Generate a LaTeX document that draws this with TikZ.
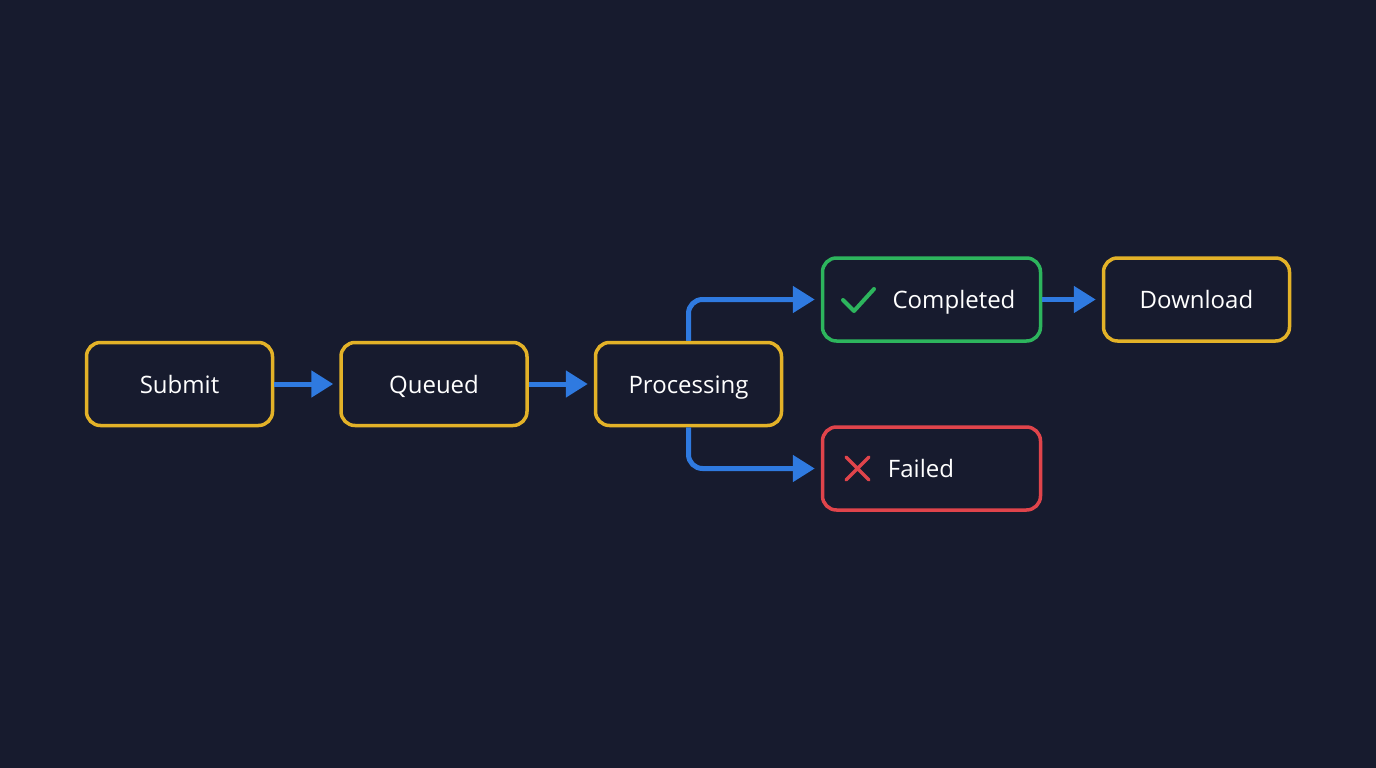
\documentclass[tikz,border=0pt]{standalone}
\usepackage{fontspec}
\setmainfont{Open Sans}
\usetikzlibrary{arrows.meta}
\definecolor{bg}{HTML}{171B2E}
\definecolor{yel}{HTML}{E3B228}
\definecolor{grn}{HTML}{2DB55D}
\definecolor{rd}{HTML}{E0444B}
\definecolor{blu}{HTML}{2F7AE0}
\begin{document}
\begin{tikzpicture}[x=1pt,y=-1pt,
  box/.style={draw=yel,line width=3.5pt,rounded corners=14pt,fill=bg,minimum width=186pt,minimum height=83pt,text=white,font=\fontsize{24}{28}\selectfont,inner sep=0pt,text height=20pt,text depth=2pt},
  arr/.style={draw=blu,line width=5pt,-{Triangle[length=22pt,width=26pt]},shorten >=6pt,rounded corners=14pt}]
\fill[bg] (0,0) rectangle (1376,768);
\useasboundingbox (0,0) rectangle (1376,768);
\node[box] (s) at (179.5,384) {Submit};
\node[box] (q) at (434,384) {Queued};
\node[box] (p) at (688.5,384) {Processing};
\node[box,draw=grn,minimum width=218pt] (c) at (931.5,299.5) {\hspace*{45pt}Completed};
\node[box] (d) at (1196.5,299.5) {Download};
\node[box,draw=rd,minimum width=218pt] (f) at (931.5,468.5) {\hspace*{45pt}Failed\hspace*{66pt}};
\draw[arr] (s.east) -- (q.west);
\draw[arr] (q.east) -- (p.west);
\draw[arr] (c.east) -- (d.west);
\draw[arr] (p.north) |- (c.west);
\draw[arr] (p.south) |- (f.west);
\draw[grn,line width=4pt,line cap=round,line join=round] (843,300) -- (854,311) -- (874,289);
\draw[rd,line width=3.5pt,line cap=round] (846,457) -- (869,480) (869,457) -- (846,480);
\end{tikzpicture}
\end{document}
